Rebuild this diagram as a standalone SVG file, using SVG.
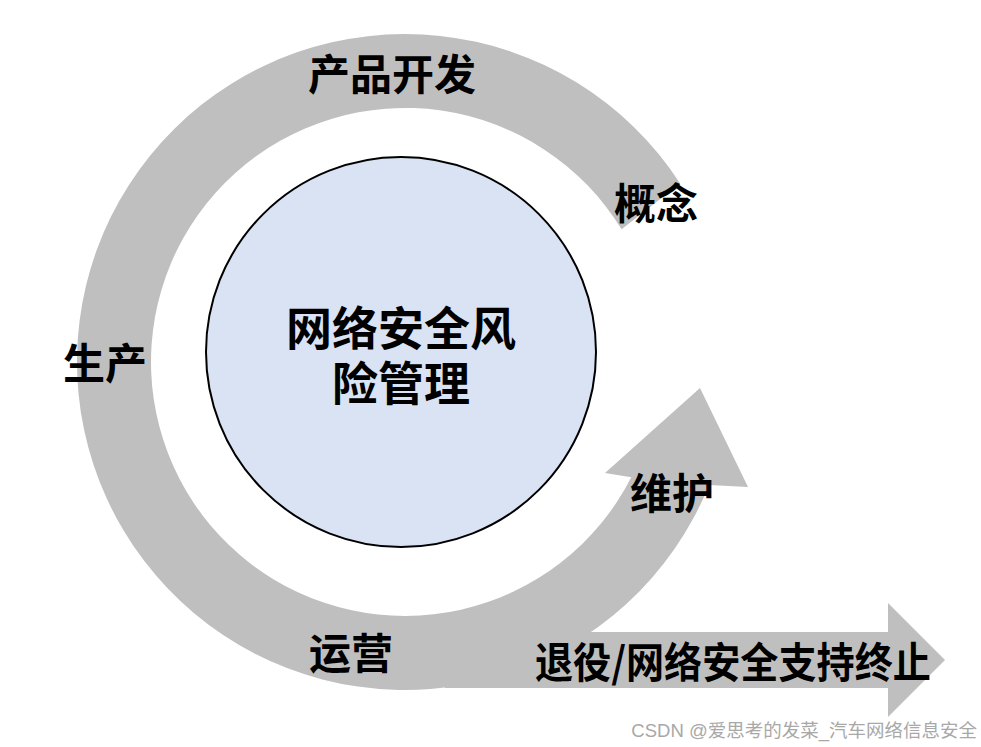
<svg xmlns="http://www.w3.org/2000/svg" width="981" height="747" viewBox="0 0 981 747">
  <style>
    .arrow { fill: #bfbfbf; stroke: none; }
    .lbl { font-family: "Noto Sans CJK SC", "Liberation Sans", sans-serif; font-weight: bold; font-size: 42px; fill: #000; text-anchor: middle; dominant-baseline: central; }
    .core { fill: #dae3f3; stroke: #000; stroke-width: 2; }
    .core-text { font-family: "Noto Sans CJK SC", "Liberation Sans", sans-serif; font-weight: bold; font-size: 46px; fill: #000; text-anchor: middle; dominant-baseline: central; }
    .wm { font-family: "Liberation Sans", "Noto Sans CJK SC", sans-serif; font-size: 18.5px; fill: #a8a8a8; text-anchor: end; dominant-baseline: central; }
  </style>
  <rect x="0" y="0" width="981" height="747" fill="#ffffff"/>
  <g id="connectors">
    <path id="cycle-arrow" class="arrow" d="M 680.1 183.4 A 328 328 0 1 0 709.1 484.9 L 748 487 L 700 388 L 605 473 L 631.3 477.3 A 254 254 0 1 1 621.6 229.3 Z"/>
    <path id="exit-arrow" class="arrow" d="M 445 632 L 888 632 L 888 603 L 945 660 L 888 717 L 888 688 L 445 688 Z"/>
  </g>
  <g id="core">
    <circle class="core" cx="401" cy="352" r="195"/>
    <text class="core-text"><tspan x="401" y="325">网络安全风</tspan><tspan x="401" y="380">险管理</tspan></text>
  </g>
  <g id="stage-dev"><text class="lbl" x="392" y="71">产品开发</text></g>
  <g id="stage-concept"><text class="lbl" x="656" y="200">概念</text></g>
  <g id="stage-production"><text class="lbl" x="105" y="360">生产</text></g>
  <g id="stage-maintenance"><text class="lbl" x="672" y="490">维护</text></g>
  <g id="stage-operation"><text class="lbl" x="351" y="650">运营</text></g>
  <g id="stage-decommission"><text class="lbl" x="733" y="659" textLength="396" lengthAdjust="spacingAndGlyphs">退役/网络安全支持终止</text></g>
  <g id="watermark"><text class="wm" x="977" y="730">CSDN @爱思考的发菜_汽车网络信息安全</text></g>
</svg>
